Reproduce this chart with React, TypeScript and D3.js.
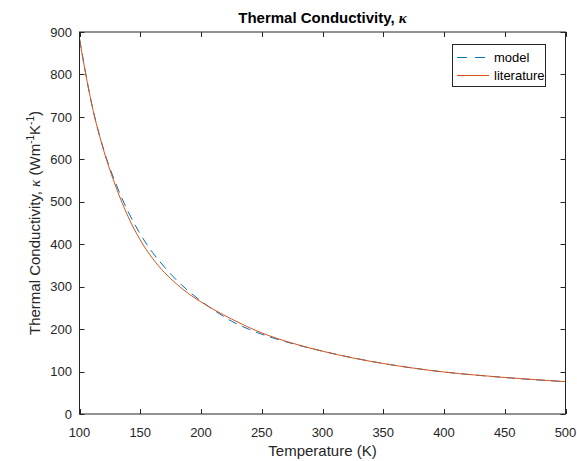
import React from "react";
import * as d3 from "d3";

const litT = [100, 105, 110, 120, 130, 140, 150, 160, 170, 180, 190, 200, 225, 250, 275, 300, 325, 350, 375, 400, 425, 450, 475, 500];
const litK = [884, 803, 731, 620, 535, 465, 410, 367, 333, 306, 283, 264, 224, 191, 167, 148, 132, 119, 108, 98.9, 92, 86, 81, 76.2];

const modelT = [100, 110, 120, 130, 140, 150, 160, 170, 180, 190, 200, 210, 225, 240, 250, 275, 300, 350, 400, 450, 500];
const modelK = [884, 731, 622, 542, 477, 424, 381, 346, 315, 289, 266, 246, 219, 199, 188, 166, 148, 119, 99, 86, 76];

const xTicks = [100, 150, 200, 250, 300, 350, 400, 450, 500];
const yTicks = [0, 100, 200, 300, 400, 500, 600, 700, 800, 900];

const W = 577, H = 461;
const L = 79.5, R = 565.5, T = 32, B = 414;
const AX = "#262626";
const FONT = "'Liberation Sans', Arial, Helvetica, sans-serif";
const SERIF = "'Liberation Serif', 'DejaVu Serif', serif";

export default function App() {
  const x = d3.scaleLinear().domain([100, 500]).range([L, R]);
  const y = d3.scaleLinear().domain([0, 900]).range([B, T]);
  const line = d3
    .line<[number, number]>()
    .x((d) => x(d[0]))
    .y((d) => y(d[1]))
    .curve(d3.curveMonotoneX);
  const litPath = line(litT.map((t, i) => [t, litK[i]]) as [number, number][]) || "";
  const modelPath = line(modelT.map((t, i) => [t, modelK[i]]) as [number, number][]) || "";
  const tl = 5;
  const cy = (T + B) / 2;
  const cx = (L + R) / 2;

  return (
    <svg width={W} height={H} style={{ position: "absolute", left: 0, top: 0, background: "#fff" }} fontFamily={FONT}>
      <rect x={0} y={0} width={W} height={H} fill="#fff" />
      <defs>
        <clipPath id="plotclip">
          <rect x={L} y={T} width={R - L} height={B - T} />
        </clipPath>
      </defs>
      <g clipPath="url(#plotclip)">
        <path d={modelPath} fill="none" stroke="#0072BD" strokeWidth={1} strokeDasharray="9,6" />
        <path d={litPath} fill="none" stroke="#D95319" strokeWidth={1} />
      </g>
      <rect x={L} y={T} width={R - L} height={B - T} fill="none" stroke={AX} strokeWidth={1} />
      {xTicks.map((t) => (
        <g key={"x" + t}>
          <line x1={Math.round(x(t)) + 0.5} x2={Math.round(x(t)) + 0.5} y1={B} y2={B - tl} stroke={AX} />
          <line x1={Math.round(x(t)) + 0.5} x2={Math.round(x(t)) + 0.5} y1={T} y2={T + tl} stroke={AX} />
          <text x={x(t)} y={437} textAnchor="middle" fontSize={13} fill={AX}>
            {t}
          </text>
        </g>
      ))}
      {yTicks.map((v) => (
        <g key={"y" + v}>
          <line x1={L} x2={L + tl} y1={Math.round(y(v)) + 0.5} y2={Math.round(y(v)) + 0.5} stroke={AX} />
          <line x1={R} x2={R - tl} y1={Math.round(y(v)) + 0.5} y2={Math.round(y(v)) + 0.5} stroke={AX} />
          <text x={72} y={y(v)} dy="0.36em" textAnchor="end" fontSize={13} fill={AX}>
            {v}
          </text>
        </g>
      ))}
      <text x={cx} y={456} textAnchor="middle" fontSize={15} fill={AX}>
        Temperature (K)
      </text>
      <text transform={`translate(40,${cy}) rotate(-90)`} textAnchor="middle" fontSize={15} fill={AX}>
        Thermal Conductivity,{" "}
        <tspan fontFamily={SERIF} fontStyle="italic">κ</tspan> (Wm
        <tspan fontSize={10} dy={-6}>-1</tspan>
        <tspan dy={6}>K</tspan>
        <tspan fontSize={10} dy={-6}>-1</tspan>
        <tspan dy={6}>)</tspan>
      </text>
      <text x={cx} y={23} textAnchor="middle" fontSize={15} fontWeight="bold" fill="#000">
        Thermal Conductivity,{" "}
        <tspan fontFamily={SERIF} fontStyle="italic">κ</tspan>
      </text>
      <rect x={452.5} y={44.5} width={93} height={42} fill="#fff" stroke={AX} strokeWidth={1} />
      <line x1={457} x2={489} y1={57.5} y2={57.5} stroke="#0072BD" strokeWidth={1} strokeDasharray="10,8" />
      <text x={494} y={57.5} dy="0.36em" fontSize={13} fill="#000">
        model
      </text>
      <line x1={457} x2={489} y1={75.5} y2={75.5} stroke="#D95319" strokeWidth={1} />
      <text x={494} y={75.5} dy="0.36em" fontSize={13} fill="#000">
        literature
      </text>
    </svg>
  );
}
